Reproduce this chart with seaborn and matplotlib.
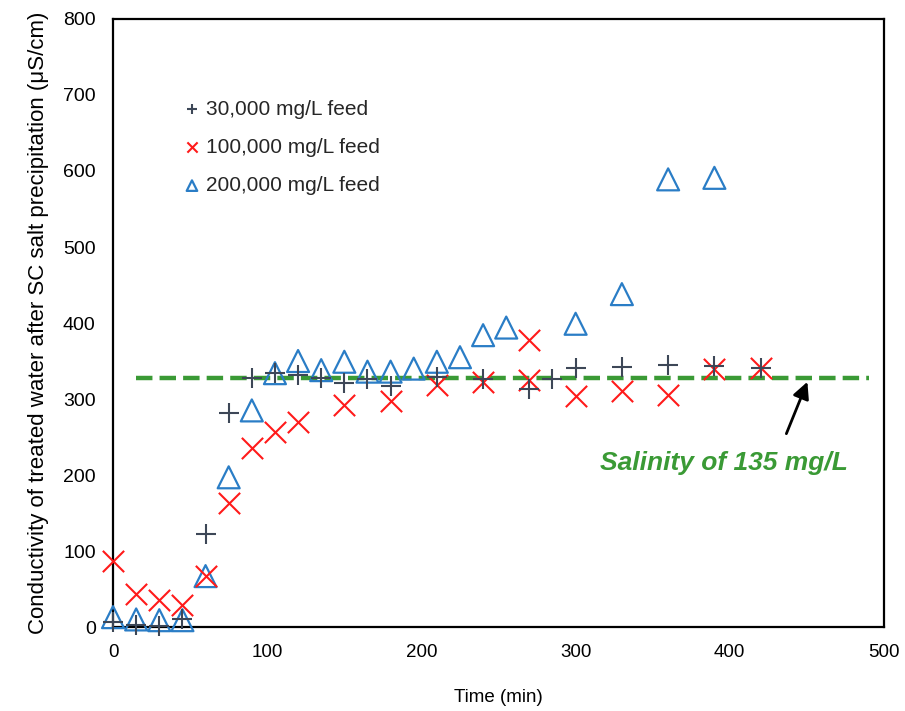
import numpy as np
import pandas as pd
import seaborn as sns
import matplotlib.pyplot as plt

# 30,000 mg/L feed
t_30k = [0, 15, 30, 45, 60, 75, 90, 105, 120, 135, 150, 165, 180, 210, 240,
         270, 285, 300, 330, 360, 390, 420]
c_30k = [6, 3, 2, 10, 122, 281, 328, 334, 331, 328, 321, 326, 317, 329, 326,
         313, 326, 341, 342, 345, 343, 341]

# 100,000 mg/L feed
t_100k = [0, 15, 30, 45, 60, 75, 90, 105, 120, 150, 180, 210, 240, 270, 270,
          300, 330, 360, 390, 420]
c_100k = [87, 44, 36, 29, 67, 163, 235, 256, 270, 292, 298, 318, 322, 377, 325,
          304, 311, 305, 339, 341]

# 200,000 mg/L feed
t_200k = [0, 15, 30, 45, 60, 75, 90, 105, 120, 135, 150, 165, 180, 195, 210,
          225, 240, 255, 300, 330, 360, 390]
c_200k = [13, 10, 9, 9, 67, 197, 285, 334, 350, 338, 349, 336, 336, 340, 349,
          355, 384, 394, 399, 438, 589, 591]

SALINITY_LEVEL = 327
LINE_X = [15, 490]

COL_30K = "#3d4757"
COL_100K = "#ff1a1a"
COL_200K = "#2a7dc6"
COL_GREEN = "#3a9a35"

sns.set_theme(style="white")
plt.rcParams['font.family'] = ['Liberation Sans', 'DejaVu Sans']

fig = plt.figure(figsize=(9.05, 7.11), dpi=100)
ax = fig.add_axes([0.1249, 0.1181, 0.8519, 0.8552])

df30 = pd.DataFrame({"t": t_30k, "c": c_30k})
df100 = pd.DataFrame({"t": t_100k, "c": c_100k})
df200 = pd.DataFrame({"t": t_200k, "c": c_200k})

# green reference level
sns.lineplot(x=LINE_X, y=[SALINITY_LEVEL] * 2, ax=ax, color=COL_GREEN,
             linewidth=3.2, dashes=(3.2, 1.6), linestyle="--", zorder=1)

sns.scatterplot(data=df200, x="t", y="c", ax=ax, marker="^", s=250,
                color=COL_200K, facecolor="none", edgecolor=COL_200K,
                linewidth=1.6, label="200,000 mg/L feed", clip_on=False, zorder=3)
sns.scatterplot(data=df100, x="t", y="c", ax=ax, marker="x", s=235,
                color=COL_100K, linewidth=1.5, label="100,000 mg/L feed",
                clip_on=False, zorder=4)
sns.scatterplot(data=df30, x="t", y="c", ax=ax, marker="+", s=220,
                color=COL_30K, linewidth=1.5, label="30,000 mg/L feed",
                clip_on=False, zorder=5)

ax.set_xlim(0, 500)
ax.set_ylim(0, 800)
ax.set_xticks(np.arange(0, 501, 100))
ax.set_yticks(np.arange(0, 801, 100))
ax.tick_params(axis="both", direction="out", length=4.5, width=1.2,
               color="black", labelsize=13.5, labelcolor="black", pad=8)
ax.tick_params(axis="y", labelsize=14, pad=8)
for side in ["left", "bottom", "top", "right"]:
    ax.spines[side].set_color("black")
    ax.spines[side].set_linewidth(1.6)
ax.set_xlabel("Time (min)", fontsize=13.5, color="black", labelpad=20)
ax.set_ylabel("Conductivity of treated water after SC salt precipitation (\u03bcS/cm)",
              fontsize=16, color="black", labelpad=10)

handles, labels = ax.get_legend_handles_labels()
order = [labels.index("30,000 mg/L feed"), labels.index("100,000 mg/L feed"),
         labels.index("200,000 mg/L feed")]
ax.legend([handles[i] for i in order], [labels[i] for i in order],
          loc="upper left", bbox_to_anchor=(0.074, 0.898), frameon=False,
          fontsize=15, markerscale=0.48, handlelength=0.3, handletextpad=0.5,
          labelspacing=0.92)

ax.annotate("", xy=(451, 326), xytext=(436, 251),
            arrowprops=dict(arrowstyle="-|>", color="black", lw=2,
                            mutation_scale=25))
ax.text(396, 216, "Salinity of 135 mg/L", color=COL_GREEN, fontsize=19,
        fontweight="bold", fontstyle="italic", ha="center", va="center")

fig.savefig("out.png", dpi=100)
